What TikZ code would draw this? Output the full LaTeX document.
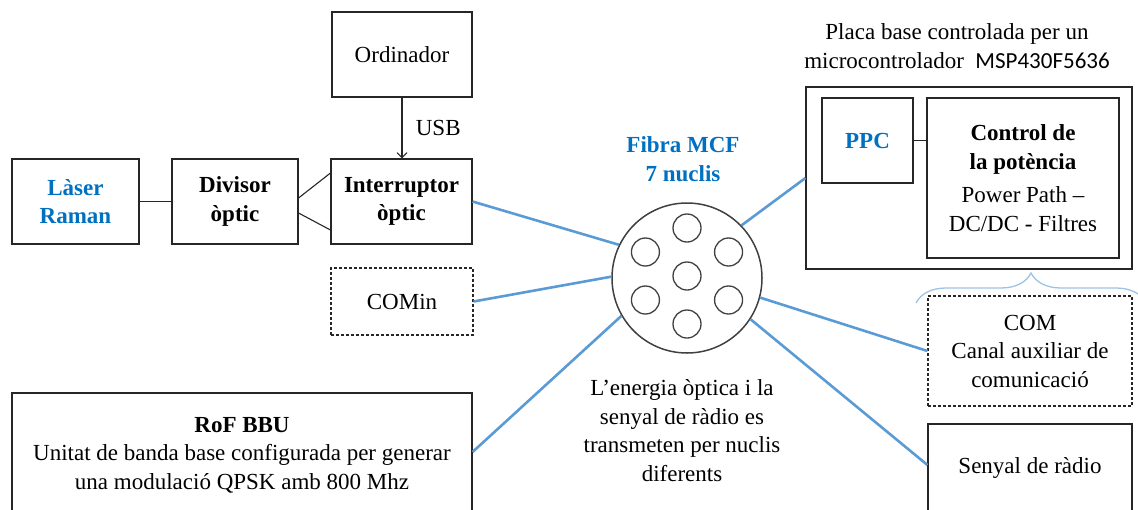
\documentclass[tikz,border=0pt]{standalone}
\usepackage{fontspec}
\setmainfont{Liberation Serif}
\newfontfamily\calibrifont{Carlito}
\usetikzlibrary{arrows.meta,decorations.pathreplacing}
\definecolor{diagramBlue}{HTML}{0070C0}
\definecolor{diagramFiber}{HTML}{5B9BD5}
\definecolor{diagramBrace}{HTML}{9DC3E6}
\definecolor{diagramLine}{HTML}{262626}
\definecolor{diagramCore}{HTML}{404040}

\begin{document}
\begin{tikzpicture}[
    x=1pt,y=-1pt,
    every node/.style={font=\fontsize{23}{28.5}\selectfont,align=center},
    block/.style={draw=diagramLine,line width=1.1pt,inner sep=0pt},
    dashblock/.style={block,dash pattern=on 3pt off 2pt},
    fibre/.style={draw=diagramCore,circle,line width=1.5pt,inner sep=0pt},
    core/.style={draw=diagramCore,circle,line width=1.3pt,inner sep=0pt,minimum size=28pt},
    link/.style={draw=diagramLine,line width=1.1pt},
    usb/.style={link,-{Straight Barb[length=5pt,width=10pt]}},
    fiber/.style={draw=diagramFiber,line width=2.6pt},
    bracket/.style={draw=diagramBrace,line width=1.3pt,decorate,decoration={brace,amplitude=30pt}}
]
\clip (0,0) rectangle (1138,509);
\node[block,minimum width=127pt,minimum height=85pt,text=diagramBlue] (laser) at (75.5,201.5) {\textbf{Làser}\\\textbf{Raman}};
\node[block,minimum width=126pt,minimum height=85pt] (divisor) at (235,201.5) {\textbf{Divisor}\\\textbf{òptic}};
\node[block,minimum width=141pt,minimum height=85pt] (interruptor) at (401.5,201.5) {\textbf{Interruptor}\\\textbf{òptic}};
\node[block,minimum width=140pt,minimum height=85pt] (ordinador) at (402,54.5) {Ordinador};
\node[dashblock,minimum width=142pt,minimum height=67pt] (comin) at (402,301.5) {COMin};
\node[block,minimum width=460pt,minimum height=124pt] (rof) at (242,455) {\textbf{RoF BBU}\\Unitat de banda base configurada per generar\\una modulació QPSK amb 800 Mhz};
\node[block,minimum width=326pt,minimum height=182pt] (placa) at (969,178) {};
\node[block,minimum width=91pt,minimum height=85pt,text=diagramBlue] (ppc) at (867.5,140.5) {\textbf{PPC}};
\node[block,minimum width=192pt,minimum height=160pt] (control) at (1023,178) {\textbf{Control de}\\\textbf{la potència}\\[5pt]Power Path –\\DC/DC - Filtres};
\node (placalabel) at (957,46) {Placa base controlada per un\\microcontrolador\ \ {\calibrifont MSP430F5636}};
\node[dashblock,minimum width=204pt,minimum height=110pt] (com) at (1030,351) {COM\\Canal auxiliar de\\comunicació};
\node[block,minimum width=204pt,minimum height=88pt] (senyal) at (1030,468) {Senyal de ràdio};
% fibra multinucli
\node[fibre,minimum size=150pt] (mcf) at (687,278) {};
\node[core] (core0) at (687,276) {};
\foreach \a [count=\i] in {90,150,...,390}
    \node[core] (core\i) at ([shift={(\a:48)}]core0) {};
\node[text=diagramBlue] (mcflabel) at (683,159) {\textbf{Fibra MCF}\\\textbf{7 nuclis}};
\node (nota) at (682,430.5) {L’energia òptica i la\\senyal de ràdio es\\transmeten per nuclis\\diferents};
\draw[link] (laser) -- (divisor);
\draw[link] ([yshift=3.5pt]divisor.east) -- ([yshift=28.5pt]interruptor.west);
\draw[link] ([yshift=-11.5pt]divisor.east) -- ([yshift=-28.5pt]interruptor.west);
\draw[usb] (ordinador.south) -- node[right=10pt] {USB} (ordinador.south |- interruptor.north);
\draw[link] (ppc.east) -- (ppc.east -| control.west);
\draw[fiber] (interruptor.east) -- (mcf.154);
\draw[fiber] (comin.east) -- (mcf.179);
\draw[fiber] ([yshift=3pt]rof.east) -- (mcf.210);
\draw[fiber] (mcf.44) -- (placa.west);
\draw[fiber] (mcf.345) -- (com.west);
\draw[fiber] (mcf.327) -- ([yshift=3pt]senyal.west);
\draw[bracket] (916,303) -- (1146,303);
\end{tikzpicture}
\end{document}
